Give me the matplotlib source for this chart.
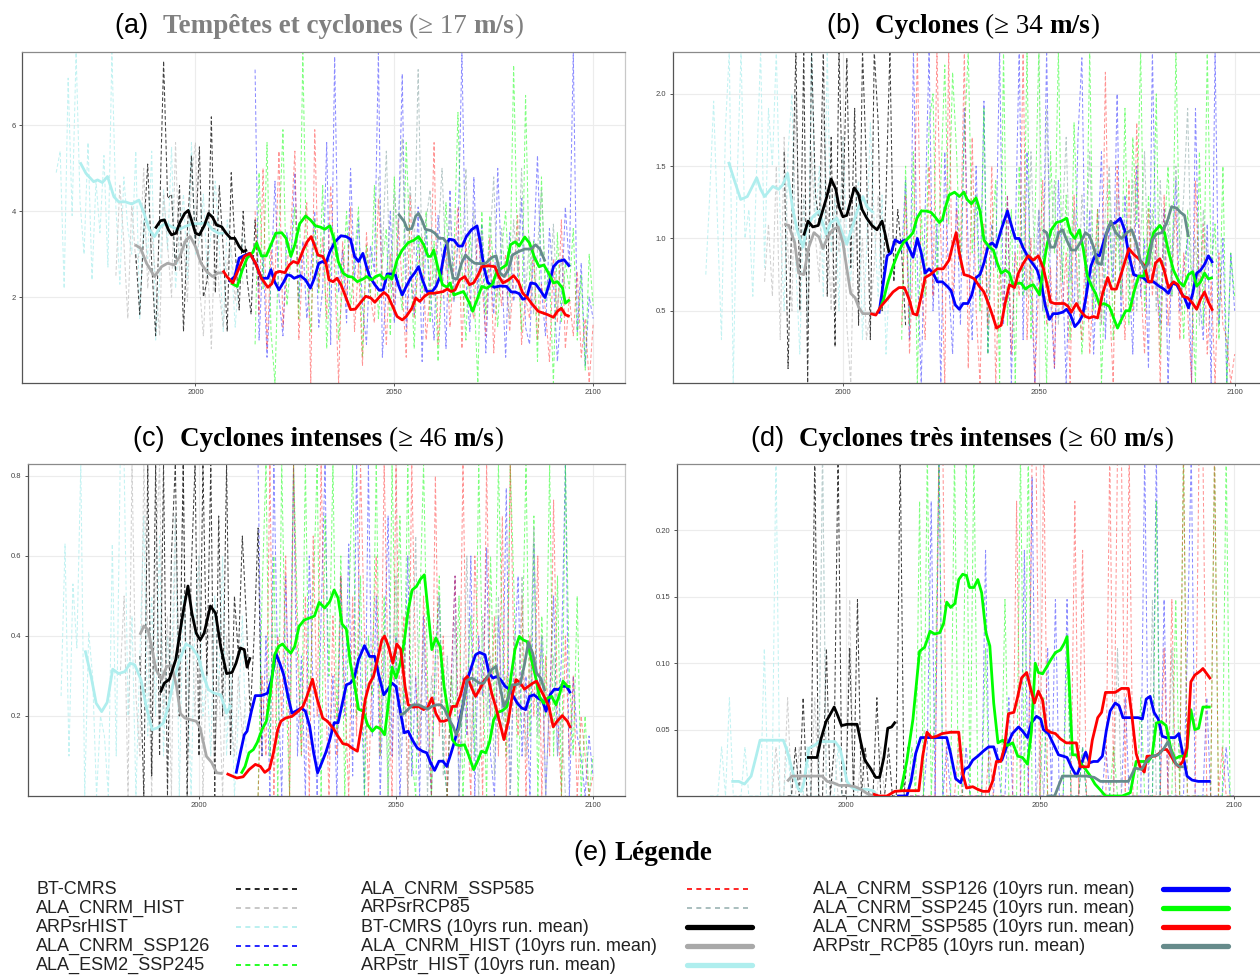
"""
Tropical storm / cyclone frequency, 4 intensity classes + legend panel.
Annual series (dashed) and 10-yr running means (thick) for each model run.
"""

import numpy as np
import matplotlib
matplotlib.use("Agg")
import matplotlib.pyplot as plt
from matplotlib.lines import Line2D
from matplotlib.offsetbox import TextArea, HPacker, AnnotationBbox

# ── Data ──────────────────────────────────────────────────────────────────────
# Annual values: first year + list of yearly values
HIST_START, ARPSR_START, BT_START, FUT_START, RCP_START = 1980, 1965, 1985, 2015, 2046

# Panel (a)  >= 17 m/s
A_BT = [3.0, 1.6, 3.5, 5.1, 2.8, 1.1, 3.9, 7.5, 4.3, 4.4, 2.6, 4.6, 1.2, 3.6, 5.3, 3.2,
        5.5, 2.0, 2.4, 6.2, 2.1, 4.6, 3.1, 1.2, 4.9, 3.1, 1.7, 4.0, 2.4, 1.6, 3.8, 2.2]
A_HIST = [2.5, 4.6, 3.3, 1.5, 4.2, 2.8, 3.0, 5.0, 2.2, 3.6, 2.4, 1.1, 4.4, 3.2, 2.0, 5.6,
          2.6, 3.3, 1.9, 4.8, 5.6, 2.3, 1.1, 3.0, 0.8, 3.7, 2.1, 1.3, 2.8, 3.2, 1.9, 2.9, 2.3]
A_ARPSR = [4.9, 5.4, 2.2, 7.1, 3.9, 7.7, 4.2, 3.0, 5.6, 2.4, 4.7, 3.5, 5.3, 2.7, 7.7, 4.1,
           2.3, 4.8, 3.6, 3.0, 5.4, 1.5, 3.8, 2.9, 5.4, 1.0, 2.4, 4.5, 3.1, 5.5, 2.2, 3.4,
           4.4, 2.4, 5.6, 3.0, 3.3, 4.4, 2.5, 3.6, 4.7, 3.1, 1.2, 3.8, 2.9, 1.3, 2.6, 3.4]
A_SSP126 = [7.3, 1.0, 3.0, 0.6, 2.4, 4.7, 2.0, 1.1, 3.5, 2.8, 4.9, 1.9, 3.3, 1.5, 2.6, 4.0,
            1.3, 2.2, 5.6, 0.9, 7.6, 2.1, 3.1, 1.4, 5.0, 2.4, 3.8, 1.8, 0.9, 3.2, 2.6, 7.7,
            0.6, 2.3, 4.0, 1.4, 3.4, 7.2, 1.2, 2.7, 1.6, 4.1, 0.5, 3.6, 2.2, 1.0, 3.9, 2.9,
            0.8, 4.5, 1.9, 3.3, 7.7, 2.4, 1.2, 4.8, 2.1, 3.7, 0.7, 2.9, 1.6, 5.0, 2.6, 0.6,
            3.5, 1.9, 2.5, 4.3, 1.3, 0.9, 3.0, 5.3, 2.2, 1.1, 3.6, 2.4, 0.5, 1.8, 4.1, 2.7,
            7.7, 1.2, 2.8, 0.4, 2.0, 1.5]
A_SSP245 = [0.9, 4.9, 2.2, 5.6, 1.2, 0.0, 3.4, 5.9, 1.8, 2.9, 4.1, 1.5, 7.7, 2.5, 1.2, 3.8,
            2.1, 4.6, 0.8, 2.7, 3.5, 1.0, 2.3, 4.0, 1.7, 2.9, 4.1, 0.6, 3.2, 2.0, 4.6, 1.5,
            2.8, 3.6, 1.1, 4.8, 2.5, 1.7, 5.6, 3.0, 0.8, 3.4, 2.1, 4.0, 1.4, 3.3, 0.5, 2.4,
            4.2, 1.9, 3.0, 6.3, 2.7, 1.0, 3.5, 2.2, 0.0, 4.0, 1.6, 3.9, 2.6, 1.3, 3.1, 4.0,
            2.0, 7.4, 2.9, 1.2, 6.7, 2.4, 3.3, 0.5, 4.8, 1.9, 2.6, 0.0, 3.5, 1.4, 2.8, 2.2,
            3.6, 1.0, 2.5, 0.3, 3.0, 1.8]
A_SSP585 = [4.0, 1.6, 5.0, 0.8, 3.1, 2.4, 5.4, 1.3, 2.7, 3.6, 5.4, 1.0, 2.9, 4.2, 0.0, 5.9,
            2.2, 3.4, 1.5, 4.6, 2.6, 0.0, 3.3, 1.9, 4.1, 1.2, 2.8, 0.4, 3.5, 2.0, 1.4, 4.3,
            2.5, 0.9, 3.0, 1.7, 3.8, 2.2, 0.6, 4.4, 1.5, 2.7, 3.4, 1.0, 2.1, 5.6, 0.9, 2.5,
            3.2, 1.3, 2.7, 4.1, 0.8, 3.3, 2.0, 1.5, 3.6, 2.4, 1.1, 3.4, 0.7, 2.6, 1.8, 3.0,
            1.2, 2.4, 3.9, 0.9, 2.0, 1.5, 3.2, 1.0, 2.3, 1.7, 0.5, 2.9, 1.4, 3.8, 0.8, 2.0,
            1.1, 2.6, 0.6, 1.5, 0.0, 1.4]
A_RCP = [4.8, 3.0, 5.4, 2.2, 4.4, 3.5, 5.7, 2.4, 4.6, 3.0, 7.3, 2.7, 3.8, 4.5, 2.0, 3.3,
         5.0, 2.6, 4.1, 1.9, 3.4, 2.8, 5.0, 2.2, 4.0, 1.8, 3.5, 2.5, 3.2, 4.8, 2.0, 3.6,
         2.3, 1.5, 3.8, 2.6, 5.0, 2.1, 3.4, 1.6, 3.1, 4.5, 2.4, 2.0, 3.7, 1.7, 2.9, 2.2]

# 10-yr running means: (year, value)
A_BT_M = [(1989.9, 3.60), (1991.2, 3.78), (1992.2, 3.80), (1993.2, 3.57), (1994.0, 3.45),
          (1995.1, 3.49), (1996.1, 3.74), (1997.3, 3.95), (1998.2, 4.02), (1999.0, 3.80),
          (2000.0, 3.49), (2001.0, 3.45), (2002.3, 3.68), (2003.3, 3.95), (2004.3, 3.86),
          (2005.3, 3.68), (2006.6, 3.64), (2007.7, 3.49), (2008.9, 3.37), (2009.9, 3.37),
          (2011.0, 3.18), (2012.0, 3.06), (2013.0, 3.10)]
A_HIST_M = [(1984.8, 3.22), (1986.2, 3.14), (1987.7, 2.79), (1989.7, 2.48), (1991.5, 2.71),
            (1993.0, 2.79), (1994.6, 2.75), (1996.1, 2.95), (1997.6, 3.33), (1998.7, 3.41),
            (2000.0, 3.18), (2001.4, 2.79), (2002.8, 2.60), (2004.3, 2.48), (2005.6, 2.56),
            (2006.9, 2.57)]
A_ARPSTR_M = [(1971.0, 5.14), (1972.5, 4.88), (1974.4, 4.69), (1975.4, 4.73), (1976.6, 4.67),
              (1977.9, 4.81), (1979.5, 4.34), (1980.7, 4.22), (1982.3, 4.22), (1984.0, 4.17),
              (1985.8, 4.26), (1987.1, 3.95), (1988.4, 3.57), (1989.7, 3.41), (1991.2, 3.64),
              (1992.5, 3.72), (1994.0, 3.64), (1995.8, 3.57), (1997.3, 3.64), (1999.2, 3.71),
              (2001.2, 3.71), (2002.8, 3.74), (2004.3, 3.57), (2005.8, 3.49), (2007.2, 3.49)]
A_SSP126_M = [(2008.4, 2.36), (2009.9, 2.48), (2011.0, 2.91), (2012.5, 2.98), (2013.7, 3.02),
              (2015.1, 2.79), (2016.6, 2.44), (2018.2, 2.44), (2019.0, 2.64), (2019.9, 2.36),
              (2021.0, 2.17), (2022.1, 2.34), (2023.1, 2.52), (2024.0, 2.50), (2024.8, 2.44),
              (2026.4, 2.50), (2027.7, 2.40), (2028.9, 2.21), (2029.9, 2.44), (2031.0, 2.79),
              (2032.0, 2.83), (2032.8, 2.79), (2033.8, 3.06), (2035.1, 3.29), (2036.6, 3.43),
              (2037.9, 3.41), (2039.0, 3.35), (2040.0, 2.95), (2041.0, 2.83), (2042.1, 3.02),
              (2043.0, 2.71), (2043.8, 2.48), (2045.1, 2.29), (2046.2, 2.16), (2047.2, 2.17),
              (2048.2, 2.54), (2049.2, 2.54), (2050.3, 2.51), (2051.0, 2.29), (2052.0, 2.05),
              (2053.0, 2.25), (2054.1, 2.44), (2055.1, 2.56), (2056.1, 2.71), (2057.1, 2.40),
              (2058.2, 2.13), (2059.5, 2.13), (2060.5, 2.25), (2061.5, 2.48), (2062.8, 3.14),
              (2063.8, 3.35), (2065.0, 3.33), (2066.1, 3.19), (2067.1, 3.19), (2068.1, 3.41),
              (2069.4, 3.57), (2070.8, 3.66), (2071.5, 3.33), (2072.5, 2.71), (2073.5, 2.34),
              (2075.1, 2.23), (2076.6, 2.26), (2078.2, 2.25), (2079.4, 2.12), (2080.4, 2.12),
              (2081.4, 2.08), (2082.3, 1.95), (2083.3, 1.99), (2084.3, 2.33), (2085.5, 2.31),
              (2086.6, 2.17), (2087.9, 1.99), (2088.9, 2.29), (2090.0, 2.71), (2091.2, 2.83),
              (2092.7, 2.87), (2094.1, 2.71)]
A_SSP245_M = [(2008.9, 2.33), (2010.5, 2.25), (2011.8, 2.64), (2013.0, 2.91), (2014.4, 3.04),
              (2015.4, 3.26), (2016.6, 2.96), (2017.8, 2.96), (2019.0, 3.22), (2020.2, 3.49),
              (2021.7, 3.50), (2022.8, 3.37), (2024.0, 2.95), (2025.0, 3.22), (2026.2, 3.71),
              (2027.7, 3.89), (2028.9, 3.80), (2030.2, 3.66), (2031.5, 3.63), (2032.5, 3.58),
              (2033.8, 3.66), (2034.9, 3.33), (2035.9, 2.83), (2037.1, 2.56), (2038.4, 2.48),
              (2039.4, 2.47), (2040.7, 2.36), (2042.1, 2.42), (2043.1, 2.48), (2044.3, 2.40),
              (2045.3, 2.48), (2046.4, 2.52), (2047.4, 2.42), (2048.4, 2.50), (2049.4, 2.42),
              (2050.7, 2.87), (2052.0, 3.10), (2053.5, 3.27), (2054.8, 3.32), (2056.1, 3.41),
              (2057.4, 3.22), (2058.5, 2.95), (2059.2, 2.95), (2059.9, 3.10), (2060.9, 2.71),
              (2062.1, 2.29), (2063.3, 2.23), (2064.0, 2.33), (2065.0, 2.05), (2066.1, 2.09),
              (2067.4, 2.13), (2068.7, 1.90), (2069.7, 1.67), (2070.8, 1.94), (2072.0, 2.25),
              (2073.2, 2.21), (2074.6, 2.29), (2075.9, 2.62), (2076.9, 2.67), (2078.2, 2.75),
              (2079.2, 3.22), (2080.4, 3.29), (2081.4, 3.19), (2082.8, 3.40), (2084.0, 3.26),
              (2085.1, 2.96), (2086.4, 2.71), (2087.6, 2.75), (2089.0, 2.52), (2090.0, 2.33),
              (2091.0, 2.36), (2092.3, 2.21), (2093.0, 1.86), (2094.1, 1.94)]
A_SSP585_M = [(2006.9, 2.62), (2007.9, 2.48), (2009.4, 2.33), (2010.8, 2.64), (2012.3, 2.95),
              (2013.7, 3.02), (2015.1, 2.79), (2016.6, 2.44), (2018.2, 2.23), (2019.2, 2.31),
              (2020.2, 2.57), (2021.2, 2.60), (2022.5, 2.57), (2023.6, 2.75), (2024.6, 2.83),
              (2025.8, 2.79), (2027.1, 3.10), (2028.1, 3.29), (2029.1, 3.41), (2029.9, 3.22),
              (2030.8, 2.98), (2032.0, 2.95), (2032.8, 2.79), (2033.6, 2.40), (2034.6, 2.36),
              (2035.6, 2.44), (2036.6, 2.29), (2037.6, 2.05), (2039.0, 1.71), (2040.2, 1.72),
              (2041.4, 1.86), (2042.8, 2.02), (2044.1, 1.98), (2045.1, 1.88), (2046.4, 2.02),
              (2047.4, 2.11), (2048.4, 2.03), (2049.6, 1.78), (2050.7, 1.55), (2052.0, 1.47),
              (2053.0, 1.55), (2054.4, 1.74), (2055.4, 1.98), (2056.4, 1.90), (2057.6, 2.02),
              (2058.7, 2.09), (2059.9, 2.09), (2061.2, 2.11), (2062.3, 2.13), (2063.3, 2.19),
              (2064.3, 2.13), (2065.3, 2.17), (2066.4, 2.40), (2067.7, 2.48), (2068.9, 2.29),
              (2069.9, 2.33), (2070.9, 2.48), (2072.0, 2.71), (2073.5, 2.73), (2075.3, 2.71),
              (2076.3, 2.48), (2077.3, 2.33), (2078.7, 2.40), (2080.0, 2.50), (2081.2, 2.36),
              (2082.3, 2.09), (2083.5, 1.98), (2084.8, 1.82), (2086.2, 1.67), (2087.4, 1.63),
              (2088.6, 1.59), (2090.0, 1.53), (2091.0, 1.67), (2092.0, 1.74), (2093.0, 1.59),
              (2094.1, 1.55)]
A_RCP_M = [(2051.0, 3.94), (2052.5, 3.76), (2053.3, 3.57), (2054.4, 3.60), (2055.4, 3.89),
           (2056.1, 3.95), (2057.1, 3.76), (2057.8, 3.58), (2059.2, 3.55), (2060.2, 3.49),
           (2061.2, 3.37), (2062.3, 3.37), (2063.3, 3.26), (2064.0, 2.79), (2064.8, 2.44),
           (2065.8, 2.42), (2066.9, 2.79), (2067.9, 2.98), (2068.9, 2.88), (2070.2, 2.79),
           (2071.5, 2.78), (2073.0, 2.79), (2074.6, 2.93), (2075.6, 2.96), (2076.6, 2.56),
           (2077.6, 2.48), (2078.7, 2.64), (2079.7, 2.98), (2081.2, 3.06), (2082.8, 3.12),
           (2084.3, 3.12), (2085.5, 3.22), (2086.6, 3.12), (2087.9, 2.83)]

# Panel (b)  >= 34 m/s
B_BT = [1.6, 0.1, 1.2, 2.3, 0.5, 2.3, 0.0, 2.3, 1.3, 1.1, 2.3, 0.6, 1.7, 0.25, 2.3, 1.2,
        2.25, 0.8, 1.9, 0.4, 2.3, 1.5, 0.3, 2.3, 1.8, 0.5, 1.3, 2.3, 0.7, 1.2, 0.9, 0.4]
B_HIST = [0.7, 1.1, 0.6, 1.5, 0.3, 1.7, 0.9, 0.5, 2.0, 0.8, 1.3, 0.4, 1.6, 1.0, 0.7, 1.9,
          1.2, 0.5, 1.4, 0.9, 1.7, 0.4, 0.0, 1.2, 0.6, 1.0, 0.3, 0.5, 0.8, 1.3, 0.6, 0.9, 1.1]
B_ARPSR = [0.75, 1.3, 1.95, 1.1, 0.3, 1.75, 2.3, 0.0, 1.4, 2.3, 1.0, 1.2, 0.6, 1.5, 2.3, 0.8,
           1.9, 1.5, 2.3, 1.1, 0.5, 1.6, 2.0, 0.8, 0.2, 1.3, 0.4, 2.3, 1.1, 1.5, 0.6, 2.3,
           0.9, 1.3, 0.5, 1.7, 1.0, 0.7, 1.2, 1.4, 0.3, 0.9, 1.8, 1.1, 0.6, 1.3, 0.2, 0.8]
B_SSP126 = [0.9, 1.4, 0.3, 2.3, 0.8, 0.0, 1.2, 2.3, 0.5, 1.1, 0.0, 1.6, 0.7, 0.2, 1.3, 0.4,
            1.9, 0.9, 0.3, 1.5, 0.6, 1.95, 0.2, 1.1, 0.8, 2.3, 0.4, 1.3, 0.0, 1.0, 2.3, 0.3,
            1.6, 0.7, 0.0, 1.2, 0.5, 2.3, 0.6, 0.1, 1.4, 0.8, 0.0, 1.0, 0.4, 1.7, 2.25, 0.5,
            1.2, 0.2, 0.9, 1.6, 0.3, 1.1, 0.7, 2.0, 0.4, 1.3, 0.8, 0.2, 1.5, 0.6, 1.0, 0.1,
            2.3, 0.7, 0.4, 1.2, 0.0, 0.9, 1.4, 0.5, 0.8, 1.0, 0.0, 1.9, 0.6, 0.3, 1.1, 0.0,
            2.3, 0.4, 1.0, 0.0, 0.9, 0.5]
B_SSP245 = [0.3, 1.5, 0.4, 1.6, 0.0, 1.2, 0.6, 1.8, 2.0, 0.7, 1.4, 2.2, 1.1, 2.15, 1.6, 0.8,
            1.7, 2.3, 0.9, 1.3, 0.5, 1.9, 0.2, 1.0, 1.4, 0.0, 2.3, 0.4, 1.2, 0.0, 1.5, 0.6,
            2.3, 0.3, 1.1, 2.3, 0.8, 0.0, 1.6, 0.9, 2.3, 0.7, 1.3, 0.3, 1.8, 1.0, 0.2, 0.6,
            2.3, 0.5, 1.2, 0.0, 0.8, 1.4, 0.3, 1.1, 0.6, 1.9, 0.4, 1.7, 1.1, 2.3, 0.5, 1.3,
            0.8, 2.0, 0.2, 1.0, 1.5, 0.6, 2.3, 0.9, 0.3, 1.2, 0.7, 0.0, 1.6, 0.4, 2.3, 0.8,
            1.1, 0.3, 1.5, 0.0, 0.9, 0.6]
B_SSP585 = [0.4, 1.3, 0.2, 0.9, 2.3, 0.7, 0.3, 1.5, 0.6, 2.3, 1.0, 0.0, 2.3, 0.5, 1.2, 0.9,
            2.3, 0.1, 1.7, 0.5, 0.0, 1.1, 0.4, 1.5, 0.0, 0.8, 0.5, 1.3, 0.2, 0.9, 0.6, 2.3,
            0.3, 1.0, 0.0, 0.7, 1.4, 0.4, 0.8, 0.1, 1.1, 0.5, 0.9, 0.0, 1.3, 0.6, 0.3, 1.0,
            0.2, 0.7, 1.2, 0.4, 2.15, 0.6, 0.0, 1.5, 0.9, 0.3, 1.4, 0.5, 1.8, 0.7, 0.2, 1.2,
            0.6, 1.0, 0.0, 1.3, 0.4, 0.8, 1.2, 0.3, 0.9, 0.5, 0.0, 1.4, 0.6, 1.1, 0.2, 0.7,
            0.0, 0.9, 0.4, 0.3, 0.0, 0.2]
B_RCP = [1.3, 0.6, 1.6, 0.8, 1.2, 0.5, 1.9, 0.9, 1.4, 0.4, 1.1, 1.7, 0.7, 1.2, 0.5, 1.3,
         0.9, 1.6, 0.6, 1.0, 0.4, 1.2, 1.5, 0.8, 1.3, 0.6, 1.1, 0.9, 1.4, 0.5, 1.0, 1.6,
         0.7, 1.2, 0.5, 1.4, 0.8, 1.1, 0.6, 1.5, 0.9, 1.3, 1.9, 0.7, 1.0, 0.4, 1.2, 0.8]

B_BT_M = [(1990.0, 1.02), (1991.1, 1.12), (1992.3, 1.08), (1993.7, 1.09), (1994.7, 1.18),
          (1995.9, 1.29), (1997.0, 1.41), (1998.2, 1.34), (1999.0, 1.22), (2000.0, 1.15),
          (2001.0, 1.16), (2001.8, 1.24), (2002.9, 1.35), (2003.9, 1.31), (2004.9, 1.20),
          (2006.1, 1.14), (2007.4, 1.09), (2008.7, 1.06), (2010.0, 1.12), (2010.7, 1.04),
          (2011.8, 0.90)]
B_HIST_M = [(1985.0, 1.10), (1986.2, 1.09), (1987.7, 0.97), (1988.7, 0.76), (1990.0, 0.75),
            (1991.3, 0.94), (1992.6, 1.04), (1993.9, 1.01), (1994.9, 0.93), (1996.1, 1.01),
            (1997.4, 1.06), (1998.8, 1.08), (2000.0, 0.97), (2001.0, 0.79), (2002.0, 0.62),
            (2003.1, 0.59), (2004.1, 0.52), (2005.1, 0.48), (2007.0, 0.48), (2008.2, 0.48)]
B_ARPSTR_M = [(1970.8, 1.53), (1972.2, 1.41), (1973.9, 1.27), (1975.6, 1.29), (1978.0, 1.42),
              (1979.0, 1.34), (1980.0, 1.29), (1982.1, 1.36), (1983.6, 1.34), (1984.6, 1.37),
              (1985.9, 1.45), (1987.2, 1.20), (1988.5, 1.04), (1989.8, 0.94), (1990.8, 1.08),
              (1992.3, 1.15), (1993.9, 1.19), (1995.7, 1.03), (1996.9, 1.11), (1998.5, 1.14),
              (1999.8, 1.04), (2001.0, 0.96), (2002.4, 1.08), (2003.9, 1.21), (2005.1, 1.29),
              (2006.1, 1.22), (2007.7, 1.18)]
B_SSP126_M = [(2009.2, 0.48), (2010.4, 0.71), (2011.3, 0.88), (2012.3, 0.90), (2013.3, 0.99),
              (2014.5, 0.97), (2015.9, 0.99), (2016.9, 0.93), (2017.9, 0.87), (2019.0, 1.00),
              (2020.0, 0.90), (2021.0, 0.76), (2022.0, 0.79), (2023.0, 0.76), (2024.1, 0.70),
              (2025.4, 0.70), (2026.6, 0.67), (2027.6, 0.64), (2028.7, 0.54), (2029.7, 0.51),
              (2030.7, 0.55), (2031.9, 0.55), (2032.9, 0.61), (2034.0, 0.73), (2035.0, 0.75),
              (2036.0, 0.83), (2037.1, 0.95), (2038.1, 0.97), (2039.1, 0.94), (2040.4, 1.06),
              (2042.0, 1.19), (2042.8, 1.11), (2044.0, 1.00), (2045.0, 1.00), (2046.1, 0.93),
              (2047.1, 0.88), (2048.6, 0.82), (2049.6, 0.78), (2050.7, 0.68), (2051.7, 0.53),
              (2052.7, 0.44), (2053.7, 0.48), (2054.8, 0.48), (2056.1, 0.49), (2057.1, 0.51),
              (2058.1, 0.47), (2059.2, 0.39), (2060.2, 0.42), (2061.2, 0.47), (2062.2, 0.62),
              (2063.3, 0.81), (2064.5, 0.89), (2065.5, 0.88), (2066.7, 0.99), (2068.0, 1.09),
              (2069.6, 1.11), (2070.8, 1.14), (2071.9, 1.06), (2072.9, 0.90), (2074.2, 0.75),
              (2075.2, 0.74), (2076.6, 0.73), (2077.8, 0.70), (2079.3, 0.70), (2080.7, 0.67),
              (2081.9, 0.65), (2083.1, 0.62), (2084.1, 0.69), (2085.2, 0.68), (2086.2, 0.63),
              (2087.2, 0.59), (2088.2, 0.52), (2089.3, 0.62), (2090.3, 0.76), (2091.3, 0.78),
              (2092.3, 0.82), (2093.3, 0.88), (2094.4, 0.83)]
B_SSP245_M = [(2009.4, 0.51), (2010.4, 0.58), (2011.5, 0.70), (2012.8, 0.81), (2014.1, 0.90),
              (2015.4, 0.97), (2016.6, 1.00), (2017.9, 1.04), (2018.9, 1.14), (2020.0, 1.19),
              (2021.3, 1.19), (2022.5, 1.18), (2023.5, 1.15), (2024.6, 1.11), (2025.4, 1.13),
              (2026.1, 1.21), (2027.1, 1.30), (2028.5, 1.32), (2029.7, 1.29), (2030.9, 1.32),
              (2031.7, 1.27), (2032.8, 1.24), (2034.0, 1.28), (2035.0, 1.19), (2036.0, 0.99),
              (2037.4, 0.94), (2038.4, 0.92), (2039.4, 0.83), (2040.4, 0.76), (2041.5, 0.78),
              (2042.5, 0.76), (2043.5, 0.67), (2044.5, 0.69), (2045.5, 0.69), (2046.6, 0.65),
              (2047.6, 0.67), (2048.6, 0.68), (2049.3, 0.65), (2050.2, 0.61), (2051.2, 0.81),
              (2052.2, 0.97), (2053.2, 1.06), (2054.5, 1.11), (2055.8, 1.12), (2057.1, 1.14),
              (2058.1, 1.04), (2059.2, 1.00), (2060.4, 1.06), (2061.4, 0.92), (2062.4, 0.74),
              (2063.5, 0.67), (2064.5, 0.62), (2065.5, 0.54), (2066.7, 0.55), (2068.0, 0.53),
              (2069.1, 0.45), (2070.1, 0.38), (2071.1, 0.44), (2072.2, 0.50), (2073.2, 0.50),
              (2074.2, 0.62), (2075.5, 0.74), (2076.8, 0.74), (2078.0, 0.90), (2079.3, 1.04),
              (2080.9, 1.09), (2082.1, 1.04), (2083.1, 0.91), (2084.4, 0.78), (2085.8, 0.70),
              (2087.0, 0.67), (2088.2, 0.75), (2089.3, 0.77), (2090.3, 0.67), (2091.3, 0.70),
              (2092.3, 0.76), (2093.3, 0.72), (2094.4, 0.73)]
B_SSP585_M = [(2007.0, 0.48), (2008.4, 0.47), (2009.7, 0.53), (2011.3, 0.58), (2012.8, 0.63),
              (2014.3, 0.66), (2015.7, 0.66), (2016.9, 0.58), (2017.9, 0.48), (2018.9, 0.47),
              (2020.0, 0.60), (2021.0, 0.73), (2022.3, 0.75), (2024.1, 0.79), (2025.6, 0.79),
              (2027.1, 0.85), (2027.9, 0.94), (2028.9, 1.04), (2029.7, 0.90), (2030.9, 0.75),
              (2032.2, 0.74), (2033.6, 0.72), (2034.8, 0.67), (2036.0, 0.63), (2037.4, 0.53),
              (2038.4, 0.45), (2039.2, 0.38), (2040.4, 0.40), (2041.4, 0.55), (2042.5, 0.68),
              (2043.8, 0.66), (2044.8, 0.76), (2046.1, 0.83), (2047.3, 0.88), (2048.6, 0.85),
              (2049.9, 0.88), (2051.2, 0.79), (2052.2, 0.67), (2053.0, 0.56), (2054.0, 0.55),
              (2055.3, 0.55), (2056.5, 0.55), (2057.5, 0.53), (2058.3, 0.49), (2059.6, 0.55),
              (2060.6, 0.50), (2061.9, 0.46), (2062.9, 0.45), (2064.0, 0.46), (2065.0, 0.45),
              (2066.3, 0.62), (2067.6, 0.73), (2068.6, 0.65), (2069.8, 0.65), (2071.1, 0.76),
              (2073.0, 0.93), (2074.2, 0.89), (2075.5, 0.86), (2077.0, 0.81), (2078.0, 0.70),
              (2078.8, 0.70), (2079.8, 0.83), (2080.9, 0.86), (2081.9, 0.79), (2083.1, 0.66),
              (2084.4, 0.70), (2085.5, 0.68), (2086.8, 0.60), (2088.0, 0.59), (2089.3, 0.55),
              (2090.3, 0.51), (2091.3, 0.58), (2092.3, 0.63), (2093.3, 0.56), (2094.4, 0.50)]
B_RCP_M = [(2051.0, 1.06), (2052.0, 1.04), (2053.0, 0.94), (2054.0, 0.94), (2055.1, 1.04),
           (2056.1, 1.06), (2057.1, 0.99), (2058.3, 0.92), (2059.4, 0.92), (2060.6, 0.97),
           (2061.9, 1.04), (2062.9, 1.02), (2064.0, 0.94), (2065.0, 0.83), (2066.0, 0.82),
           (2067.3, 1.04), (2068.4, 1.12), (2069.6, 1.04), (2071.1, 1.00), (2072.5, 1.04),
           (2073.7, 1.06), (2074.9, 0.97), (2075.9, 0.85), (2077.0, 0.79), (2078.0, 0.83),
           (2079.0, 0.99), (2080.0, 1.03), (2081.4, 1.04), (2082.7, 1.11), (2083.9, 1.22),
           (2085.2, 1.21), (2086.2, 1.18), (2087.2, 1.16), (2088.2, 1.01)]

# Panel (c)  >= 46 m/s
C_BT = [0.35, 0.0, 0.83, 0.05, 0.83, 0.1, 0.83, 0.0, 0.6, 0.83, 0.2, 0.83, 0.0, 0.55, 0.83, 0.1,
        0.83, 0.3, 0.83, 0.0, 0.7, 0.2, 0.83, 0.1, 0.5, 0.35, 0.65, 0.45, 0.2, 0.4, 0.67, 0.1]
C_HIST = [0.3, 0.5, 0.0, 0.83, 0.25, 0.1, 0.83, 0.4, 0.0, 0.6, 0.83, 0.2, 0.45, 0.0, 0.7, 0.3,
          0.83, 0.1, 0.5, 0.2, 0.6, 0.0, 0.35, 0.45, 0.1, 0.3, 0.0, 0.4, 0.2, 0.1, 0.3, 0.15, 0.25]
C_ARPSR = [0.25, 0.63, 0.1, 0.53, 0.37, 0.83, 0.0, 0.41, 0.3, 0.0, 0.2, 0.15, 0.0, 0.63, 0.1, 0.83,
           0.83, 0.2, 0.45, 0.0, 0.35, 0.7, 0.15, 0.5, 0.2, 0.65, 0.1, 0.4, 0.3, 0.7, 0.0, 0.5,
           0.35, 0.0, 0.45, 0.6, 0.2, 0.3, 0.1, 0.5, 0.25, 0.6, 0.1, 0.35, 0.0, 0.2, 0.45, 0.1]
C_SSP126 = [0.83, 0.1, 0.4, 0.0, 0.83, 0.3, 0.0, 0.55, 0.2, 0.83, 0.1, 0.35, 0.0, 0.6, 0.25, 0.0,
            0.45, 0.83, 0.1, 0.3, 0.0, 0.55, 0.2, 0.63, 0.05, 0.83, 0.3, 0.0, 0.83, 0.15, 0.5, 0.0,
            0.35, 0.7, 0.1, 0.4, 0.0, 0.25, 0.6, 0.05, 0.3, 0.0, 0.45, 0.15, 0.0, 0.35, 0.5, 0.1,
            0.0, 0.27, 0.55, 0.0, 0.3, 0.15, 0.6, 0.0, 0.4, 0.25, 0.62, 0.1, 0.0, 0.45, 0.2, 0.77,
            0.0, 0.35, 0.55, 0.1, 0.3, 0.0, 0.63, 0.2, 0.4, 0.0, 0.25, 0.5, 0.1, 0.35, 0.83, 0.0,
            0.3, 0.15, 0.1, 0.0, 0.15, 0.05]
C_SSP245 = [0.0, 0.5, 0.83, 0.1, 0.6, 0.0, 0.83, 0.3, 0.0, 0.83, 0.45, 0.1, 0.83, 0.2, 0.5, 0.83,
            0.0, 0.7, 0.3, 0.83, 0.15, 0.6, 0.0, 0.45, 0.83, 0.2, 0.55, 0.0, 0.4, 0.25, 0.83, 0.1,
            0.5, 0.0, 0.83, 0.3, 0.7, 0.2, 0.83, 0.1, 0.0, 0.45, 0.83, 0.3, 0.0, 0.35, 0.55, 0.1,
            0.0, 0.3, 0.2, 0.5, 0.0, 0.25, 0.45, 0.1, 0.83, 0.3, 0.0, 0.6, 0.2, 0.83, 0.4, 0.1,
            0.83, 0.5, 0.0, 0.35, 0.83, 0.15, 0.7, 0.0, 0.45, 0.2, 0.83, 0.1, 0.55, 0.0, 0.83, 0.3,
            0.1, 0.5, 0.0, 0.2, 0.0, 0.1]
C_SSP585 = [0.0, 0.3, 0.1, 0.83, 0.0, 0.4, 0.2, 0.6, 0.0, 0.83, 0.35, 0.1, 0.5, 0.0, 0.65, 0.2,
            0.83, 0.3, 0.0, 0.45, 0.1, 0.55, 0.25, 0.0, 0.5, 0.15, 0.83, 0.4, 0.0, 0.35, 0.6, 0.1,
            0.83, 0.3, 0.0, 0.83, 0.2, 0.45, 0.0, 0.83, 0.3, 0.1, 0.5, 0.25, 0.0, 0.8, 0.15, 0.4,
            0.0, 0.3, 0.55, 0.1, 0.83, 0.2, 0.0, 0.6, 0.35, 0.0, 0.83, 0.2, 0.45, 0.1, 0.7, 0.0,
            0.83, 0.3, 0.15, 0.5, 0.0, 0.4, 0.2, 0.6, 0.0, 0.35, 0.1, 0.74, 0.2, 0.0, 0.4, 0.1,
            0.3, 0.0, 0.2, 0.1, 0.0, 0.05]
C_RCP = [0.1, 0.4, 0.0, 0.3, 0.55, 0.1, 0.35, 0.0, 0.25, 0.65, 0.15, 0.4, 0.0, 0.3, 0.2, 0.5,
         0.05, 0.35, 0.15, 0.45, 0.0, 0.25, 0.6, 0.1, 0.3, 0.0, 0.45, 0.2, 0.35, 0.05, 0.5, 0.15,
         0.3, 0.0, 0.4, 0.2, 0.55, 0.1, 0.3, 0.67, 0.15, 0.4, 0.0, 0.25, 0.35, 0.1, 0.2, 0.0]

C_BT_M = [(1990.2, 0.259), (1991.2, 0.282), (1992.5, 0.292), (1994.1, 0.341), (1996.0, 0.461),
          (1997.2, 0.525), (1998.2, 0.457), (1999.3, 0.407), (2000.3, 0.390), (2001.3, 0.407),
          (2002.9, 0.475), (2004.2, 0.457), (2005.5, 0.374), (2007.0, 0.306), (2008.4, 0.309),
          (2009.4, 0.332), (2010.5, 0.370), (2011.5, 0.366), (2012.2, 0.322), (2013.0, 0.347)]
C_HIST_M = [(1985.0, 0.403), (1986.0, 0.425), (1987.1, 0.415), (1988.1, 0.366), (1989.1, 0.316),
            (1990.5, 0.291), (1991.8, 0.324), (1993.1, 0.326), (1994.3, 0.274), (1995.3, 0.206),
            (1996.4, 0.195), (1997.7, 0.191), (1999.3, 0.187), (2000.3, 0.170), (2001.9, 0.099),
            (2003.2, 0.084), (2004.5, 0.058), (2006.0, 0.056)]
C_ARPSTR_M = [(1971.1, 0.364), (1972.6, 0.300), (1973.9, 0.232), (1975.3, 0.211), (1976.7, 0.234),
              (1978.1, 0.317), (1979.6, 0.306), (1981.2, 0.311), (1982.5, 0.332), (1983.7, 0.328),
              (1985.3, 0.290), (1986.6, 0.224), (1988.1, 0.166), (1989.4, 0.170), (1991.0, 0.183),
              (1992.2, 0.224), (1993.6, 0.290), (1995.1, 0.341), (1996.7, 0.380), (1998.2, 0.372),
              (1999.8, 0.349), (2001.1, 0.300), (2002.4, 0.266), (2003.9, 0.257), (2005.5, 0.253),
              (2007.0, 0.207), (2008.1, 0.228)]
C_SSP126_M = [(2009.4, 0.056), (2010.5, 0.108), (2011.5, 0.153), (2012.2, 0.162), (2013.3, 0.212),
              (2014.3, 0.251), (2015.8, 0.251), (2017.4, 0.257), (2018.4, 0.291), (2019.5, 0.357),
              (2020.5, 0.332), (2021.5, 0.303), (2022.6, 0.249), (2023.6, 0.207), (2024.9, 0.214),
              (2026.0, 0.220), (2027.0, 0.212), (2028.1, 0.174), (2029.1, 0.108), (2030.1, 0.058),
              (2031.2, 0.084), (2032.2, 0.109), (2033.2, 0.141), (2034.3, 0.183), (2035.3, 0.183),
              (2036.3, 0.228), (2037.4, 0.278), (2038.4, 0.282), (2039.4, 0.295), (2040.5, 0.341),
              (2042.0, 0.376), (2043.3, 0.349), (2044.6, 0.349), (2045.7, 0.299), (2046.9, 0.253),
              (2047.9, 0.266), (2049.0, 0.282), (2050.0, 0.274), (2051.0, 0.216), (2052.1, 0.158),
              (2053.1, 0.162), (2054.1, 0.141), (2055.4, 0.120), (2056.7, 0.112), (2057.8, 0.108),
              (2058.8, 0.083), (2059.8, 0.064), (2060.9, 0.087), (2061.9, 0.087), (2062.9, 0.074),
              (2064.0, 0.108), (2065.0, 0.141), (2066.0, 0.183), (2067.1, 0.232), (2068.1, 0.291),
              (2069.2, 0.324), (2070.2, 0.353), (2071.2, 0.359), (2072.6, 0.353), (2073.6, 0.307),
              (2074.6, 0.295), (2075.7, 0.299), (2076.7, 0.289), (2077.7, 0.274), (2078.8, 0.267),
              (2079.8, 0.249), (2080.8, 0.232), (2081.9, 0.220), (2082.9, 0.216), (2083.9, 0.249),
              (2085.0, 0.253), (2086.0, 0.245), (2087.1, 0.239), (2088.1, 0.212), (2089.1, 0.253),
              (2090.2, 0.267), (2091.2, 0.266), (2092.2, 0.274), (2093.3, 0.274), (2094.3, 0.257)]
C_SSP245_M = [(2010.7, 0.056), (2011.7, 0.074), (2012.7, 0.108), (2013.8, 0.116), (2014.8, 0.134),
              (2016.0, 0.166), (2017.1, 0.187), (2018.1, 0.257), (2019.2, 0.353), (2020.2, 0.374),
              (2021.2, 0.380), (2022.3, 0.367), (2023.3, 0.357), (2024.3, 0.374), (2025.4, 0.424),
              (2026.7, 0.440), (2028.1, 0.445), (2029.3, 0.450), (2030.5, 0.484), (2031.9, 0.470),
              (2033.2, 0.486), (2034.3, 0.515), (2035.3, 0.495), (2036.3, 0.430), (2037.4, 0.417),
              (2038.4, 0.334), (2039.4, 0.282), (2040.5, 0.217), (2041.7, 0.212), (2042.8, 0.178),
              (2044.0, 0.162), (2045.0, 0.173), (2046.1, 0.168), (2047.1, 0.153), (2047.9, 0.216),
              (2049.0, 0.322), (2050.0, 0.295), (2051.0, 0.328), (2052.1, 0.386), (2053.1, 0.465),
              (2054.1, 0.515), (2055.2, 0.524), (2056.2, 0.542), (2057.2, 0.553), (2058.1, 0.467),
              (2059.1, 0.366), (2060.1, 0.395), (2061.2, 0.374), (2062.2, 0.274), (2063.3, 0.207),
              (2064.3, 0.141), (2065.3, 0.128), (2066.4, 0.126), (2067.4, 0.128), (2068.4, 0.103),
              (2069.7, 0.066), (2070.7, 0.087), (2071.7, 0.112), (2072.8, 0.108), (2073.8, 0.137),
              (2074.8, 0.191), (2075.9, 0.209), (2077.1, 0.214), (2078.2, 0.224), (2079.2, 0.299),
              (2080.2, 0.366), (2081.3, 0.399), (2082.3, 0.390), (2083.3, 0.386), (2084.4, 0.341),
              (2085.4, 0.299), (2086.4, 0.249), (2087.5, 0.232), (2088.5, 0.245), (2089.5, 0.249),
              (2090.6, 0.228), (2091.6, 0.257), (2092.4, 0.287), (2093.5, 0.274), (2094.3, 0.274)]
C_SSP585_M = [(2007.0, 0.056), (2008.4, 0.050), (2009.6, 0.045), (2011.2, 0.048), (2012.7, 0.066),
              (2014.3, 0.079), (2015.6, 0.074), (2016.7, 0.059), (2017.9, 0.068), (2018.9, 0.108),
              (2020.0, 0.166), (2020.8, 0.187), (2022.0, 0.195), (2023.6, 0.199), (2025.2, 0.212),
              (2026.4, 0.224), (2027.4, 0.249), (2028.8, 0.292), (2029.8, 0.249), (2031.4, 0.195),
              (2032.6, 0.187), (2034.0, 0.170), (2035.3, 0.149), (2036.5, 0.131), (2037.8, 0.128),
              (2038.8, 0.120), (2040.2, 0.112), (2041.2, 0.173), (2042.2, 0.242), (2043.3, 0.282),
              (2044.3, 0.299), (2045.3, 0.341), (2046.4, 0.390), (2047.1, 0.400), (2048.1, 0.374),
              (2049.2, 0.332), (2050.2, 0.380), (2051.2, 0.367), (2052.3, 0.274), (2053.1, 0.228),
              (2054.3, 0.222), (2055.7, 0.224), (2057.0, 0.216), (2058.1, 0.222), (2059.1, 0.245),
              (2060.1, 0.207), (2061.2, 0.187), (2062.2, 0.187), (2063.3, 0.191), (2064.3, 0.224),
              (2065.3, 0.224), (2066.4, 0.253), (2067.4, 0.292), (2068.1, 0.299), (2069.2, 0.270),
              (2070.2, 0.249), (2071.2, 0.266), (2072.3, 0.287), (2073.3, 0.299), (2074.3, 0.257),
              (2075.4, 0.220), (2076.4, 0.181), (2077.4, 0.141), (2078.5, 0.187), (2079.5, 0.251),
              (2080.5, 0.291), (2081.6, 0.282), (2082.6, 0.267), (2083.6, 0.274), (2084.7, 0.282),
              (2085.7, 0.287), (2086.7, 0.266), (2087.8, 0.245), (2088.8, 0.224), (2089.9, 0.173),
              (2090.9, 0.187), (2092.2, 0.201), (2093.5, 0.187), (2094.3, 0.170)]
C_RCP_M = [(2051.0, 0.203), (2052.1, 0.207), (2053.1, 0.217), (2054.3, 0.228), (2055.7, 0.228),
           (2057.0, 0.222), (2058.1, 0.217), (2059.1, 0.224), (2060.4, 0.228), (2061.4, 0.228),
           (2062.4, 0.216), (2063.5, 0.191), (2064.5, 0.174), (2065.3, 0.153), (2066.0, 0.170),
           (2067.1, 0.232), (2068.1, 0.289), (2069.2, 0.295), (2070.2, 0.289), (2071.2, 0.282),
           (2072.3, 0.282), (2073.3, 0.299), (2074.3, 0.316), (2075.4, 0.324), (2076.4, 0.274),
           (2077.4, 0.224), (2078.5, 0.245), (2079.5, 0.278), (2080.5, 0.278), (2081.6, 0.282),
           (2082.6, 0.328), (2083.6, 0.384), (2084.7, 0.357), (2085.7, 0.307), (2086.7, 0.295),
           (2087.8, 0.262)]

# Panel (d)  >= 60 m/s
D_BT = [0.0, 0.0, 0.037, 0.0, 0.074, 0.0, 0.0, 0.26, 0.0, 0.0, 0.111, 0.0, 0.037, 0.26, 0.0, 0.0,
        0.111, 0.0, 0.148, 0.0, 0.037, 0.0, 0.0, 0.074, 0.0, 0.0, 0.037, 0.0, 0.0, 0.26, 0.0, 0.037]
D_HIST = [0.0, 0.0, 0.037, 0.0, 0.0, 0.074, 0.0, 0.0, 0.037, 0.0, 0.0, 0.0, 0.074, 0.0, 0.26, 0.0,
          0.0, 0.037, 0.0, 0.0, 0.0, 0.148, 0.0, 0.0, 0.037, 0.0, 0.0, 0.0, 0.0, 0.037, 0.0, 0.0, 0.0]
D_ARPSR = [0.0, 0.0, 0.0, 0.037, 0.0, 0.074, 0.0, 0.0, 0.0, 0.037, 0.0, 0.0, 0.0, 0.0, 0.111, 0.0,
           0.0, 0.26, 0.0, 0.0, 0.037, 0.0, 0.0, 0.0, 0.0, 0.037, 0.0, 0.0, 0.0, 0.26, 0.0, 0.0,
           0.0, 0.037, 0.0, 0.0, 0.0, 0.0, 0.0, 0.0, 0.0, 0.0, 0.0, 0.0, 0.0, 0.0, 0.0, 0.0]
D_SSP126 = [0.0, 0.0, 0.0, 0.0, 0.0, 0.0, 0.037, 0.222, 0.0, 0.26, 0.0, 0.037, 0.0, 0.0, 0.0, 0.0,
            0.037, 0.0, 0.0, 0.0, 0.0, 0.185, 0.0, 0.0, 0.037, 0.0, 0.0, 0.074, 0.0, 0.0, 0.0, 0.185,
            0.0, 0.24, 0.0, 0.0, 0.0, 0.111, 0.0, 0.148, 0.0, 0.0, 0.148, 0.0, 0.0, 0.0, 0.037, 0.0,
            0.0, 0.0, 0.0, 0.0, 0.037, 0.0, 0.0, 0.0, 0.0, 0.074, 0.0, 0.0, 0.0, 0.0, 0.26, 0.0,
            0.0, 0.26, 0.0, 0.148, 0.0, 0.0, 0.0, 0.0, 0.0, 0.111, 0.26, 0.0, 0.0, 0.0, 0.074, 0.0,
            0.0, 0.0, 0.0, 0.037, 0.0, 0.0]
D_SSP245 = [0.0, 0.0, 0.037, 0.0, 0.222, 0.0, 0.26, 0.0, 0.074, 0.26, 0.0, 0.0, 0.0, 0.26, 0.0, 0.0,
            0.26, 0.0, 0.26, 0.0, 0.0, 0.111, 0.0, 0.0, 0.0, 0.0, 0.148, 0.0, 0.0, 0.0, 0.26, 0.0,
            0.26, 0.0, 0.0, 0.0, 0.074, 0.0, 0.0, 0.0, 0.0, 0.0, 0.111, 0.0, 0.0, 0.0, 0.037, 0.0,
            0.0, 0.0, 0.0, 0.0, 0.0, 0.0, 0.037, 0.0, 0.0, 0.0, 0.0, 0.0, 0.0, 0.074, 0.0, 0.0,
            0.0, 0.222, 0.0, 0.0, 0.0, 0.0, 0.148, 0.0, 0.26, 0.0, 0.0, 0.0, 0.0, 0.0, 0.0, 0.0,
            0.26, 0.0, 0.0, 0.26, 0.0, 0.0]
D_SSP585 = [0.0, 0.0, 0.0, 0.0, 0.0, 0.0, 0.0, 0.0, 0.0, 0.26, 0.26, 0.0, 0.0, 0.0, 0.037, 0.0,
            0.0, 0.0, 0.0, 0.0, 0.0, 0.0, 0.037, 0.0, 0.0, 0.0, 0.0, 0.0, 0.0, 0.222, 0.0, 0.0,
            0.0, 0.26, 0.26, 0.0, 0.26, 0.0, 0.0, 0.0, 0.0, 0.0, 0.0, 0.0, 0.222, 0.0, 0.185, 0.0,
            0.0, 0.0, 0.0, 0.0, 0.0, 0.26, 0.0, 0.26, 0.26, 0.0, 0.26, 0.0, 0.0, 0.0, 0.0, 0.0,
            0.0, 0.0, 0.0, 0.111, 0.0, 0.148, 0.0, 0.0, 0.26, 0.0, 0.0, 0.0, 0.26, 0.26, 0.0, 0.0,
            0.26, 0.0, 0.037, 0.0, 0.0, 0.0]
D_RCP = [0.0, 0.0, 0.0, 0.0, 0.037, 0.0, 0.0, 0.0, 0.0, 0.0, 0.0, 0.0, 0.0, 0.0, 0.0, 0.0,
         0.0, 0.0, 0.0, 0.0, 0.0, 0.0, 0.0, 0.0, 0.111, 0.0, 0.0, 0.0, 0.0, 0.0, 0.0, 0.0,
         0.0, 0.148, 0.0, 0.0, 0.0, 0.0, 0.111, 0.0, 0.0, 0.0, 0.0, 0.0, 0.0, 0.0, 0.0, 0.0]

D_BT_M = [(1990.0, 0.029), (1992.6, 0.029), (1993.6, 0.043), (1994.9, 0.056), (1995.7, 0.060),
          (1997.0, 0.067), (1998.0, 0.060), (1998.9, 0.053), (2000.3, 0.054), (2001.6, 0.054),
          (2002.9, 0.054), (2003.9, 0.040), (2004.9, 0.027), (2006.3, 0.021), (2007.7, 0.014),
          (2008.7, 0.014), (2009.8, 0.029), (2010.8, 0.051), (2011.8, 0.052), (2012.8, 0.056)]
D_HIST_M = [(1984.9, 0.011), (1986.1, 0.015), (1988.0, 0.015), (1990.0, 0.015), (1992.1, 0.015),
            (1993.9, 0.015), (1995.2, 0.011), (1996.7, 0.010), (1998.3, 0.008), (2000.3, 0.008),
            (2002.4, 0.007), (2003.9, 0.005), (2005.4, 0.002), (2007.0, 0.000)]
D_ARPSTR_M = [(1970.5, 0.011), (1972.4, 0.011), (1973.9, 0.009), (1975.6, 0.015), (1976.9, 0.030),
              (1977.9, 0.042), (1979.8, 0.042), (1981.8, 0.042), (1983.9, 0.042), (1985.1, 0.032),
              (1986.4, 0.017), (1987.8, 0.005), (1988.5, 0.0035), (1989.2, 0.010), (1990.5, 0.036),
              (1991.9, 0.038), (1993.1, 0.041), (1995.2, 0.041), (1997.2, 0.041), (1998.5, 0.036),
              (1999.3, 0.025), (2000.3, 0.011), (2001.3, 0.007), (2002.4, 0.005), (2003.9, 0.005),
              (2005.4, 0.005), (2007.0, 0.004), (2007.7, 0.002)]
D_SSP126_M = [(2013.2, 0.0), (2015.7, 0.0), (2016.8, 0.011), (2018.0, 0.032), (2019.3, 0.044),
              (2021.4, 0.044), (2023.4, 0.044), (2026.0, 0.044), (2027.0, 0.032), (2028.3, 0.013),
              (2029.6, 0.010), (2030.6, 0.020), (2031.7, 0.022), (2032.7, 0.027), (2034.0, 0.030),
              (2035.5, 0.034), (2036.8, 0.037), (2038.1, 0.037), (2039.2, 0.027), (2040.2, 0.027),
              (2041.4, 0.037), (2042.9, 0.047), (2044.5, 0.052), (2045.5, 0.049), (2046.8, 0.044),
              (2047.8, 0.055), (2049.1, 0.060), (2050.2, 0.058), (2050.9, 0.050), (2052.2, 0.047),
              (2053.5, 0.039), (2054.8, 0.031), (2056.0, 0.030), (2057.0, 0.029), (2058.1, 0.022),
              (2059.4, 0.015), (2060.4, 0.022), (2061.8, 0.033), (2062.8, 0.025), (2063.8, 0.026),
              (2064.9, 0.026), (2066.1, 0.030), (2067.1, 0.049), (2068.1, 0.064), (2069.4, 0.070),
              (2070.4, 0.068), (2071.4, 0.059), (2072.8, 0.059), (2074.1, 0.059), (2075.3, 0.059),
              (2076.4, 0.058), (2077.4, 0.073), (2078.4, 0.075), (2079.4, 0.063), (2080.5, 0.058),
              (2081.5, 0.045), (2082.5, 0.044), (2083.8, 0.044), (2084.8, 0.044), (2085.8, 0.047),
              (2086.8, 0.032), (2087.9, 0.015), (2089.2, 0.012), (2090.8, 0.011), (2092.3, 0.011),
              (2094.0, 0.011)]
D_SSP245_M = [(2014.2, 0.0045), (2015.7, 0.026), (2017.3, 0.058), (2019.0, 0.109), (2020.3, 0.112),
              (2021.7, 0.124), (2022.9, 0.122), (2024.2, 0.123), (2025.2, 0.130), (2026.0, 0.146),
              (2027.0, 0.142), (2028.1, 0.145), (2029.1, 0.163), (2030.1, 0.167), (2031.1, 0.166),
              (2031.9, 0.157), (2033.0, 0.157), (2034.0, 0.163), (2035.0, 0.153), (2036.1, 0.123),
              (2037.1, 0.113), (2038.1, 0.070), (2039.2, 0.040), (2040.4, 0.042), (2041.6, 0.038),
              (2043.0, 0.040), (2044.3, 0.030), (2045.5, 0.029), (2046.8, 0.024), (2047.8, 0.048),
              (2048.8, 0.100), (2049.6, 0.093), (2050.7, 0.092), (2051.9, 0.098), (2052.9, 0.103),
              (2054.0, 0.108), (2055.3, 0.110), (2056.3, 0.115), (2057.0, 0.120), (2058.4, 0.031),
              (2059.4, 0.031), (2060.4, 0.025), (2061.8, 0.020), (2063.0, 0.015), (2064.2, 0.009),
              (2065.6, 0.0045), (2066.9, 0.0), (2069.2, 0.0), (2071.2, 0.0), (2073.3, 0.0025),
              (2074.8, 0.026), (2076.4, 0.026), (2077.9, 0.026), (2078.9, 0.030), (2080.0, 0.055),
              (2081.3, 0.056), (2082.5, 0.053), (2083.8, 0.035), (2084.8, 0.028), (2086.1, 0.030),
              (2087.7, 0.030), (2088.9, 0.065), (2089.9, 0.050), (2090.9, 0.051), (2092.0, 0.067),
              (2093.0, 0.067), (2094.0, 0.067)]
D_SSP585_M = [(2007.0, 0.0015), (2008.5, 0.0), (2010.6, 0.0), (2012.6, 0.0035), (2014.7, 0.004),
              (2016.8, 0.004), (2018.8, 0.004), (2019.8, 0.030), (2020.9, 0.048), (2022.1, 0.044),
              (2023.4, 0.045), (2024.8, 0.047), (2027.0, 0.048), (2029.1, 0.048), (2030.1, 0.017),
              (2031.1, 0.006), (2032.7, 0.007), (2034.0, 0.005), (2035.3, 0.0035), (2036.8, 0.0035),
              (2037.8, 0.011), (2038.8, 0.026), (2039.9, 0.026), (2040.9, 0.037), (2041.9, 0.062),
              (2043.3, 0.063), (2044.3, 0.075), (2045.3, 0.089), (2046.6, 0.093), (2047.6, 0.081),
              (2048.6, 0.070), (2049.6, 0.079), (2050.7, 0.072), (2051.7, 0.050), (2052.7, 0.048),
              (2054.0, 0.047), (2055.3, 0.043), (2056.8, 0.040), (2058.4, 0.040), (2059.4, 0.040),
              (2060.4, 0.022), (2061.5, 0.022), (2062.5, 0.022), (2063.5, 0.042), (2064.9, 0.059),
              (2065.9, 0.063), (2066.9, 0.078), (2068.1, 0.078), (2069.4, 0.078), (2071.0, 0.081),
              (2072.8, 0.081), (2073.8, 0.058), (2074.8, 0.032), (2075.8, 0.022), (2076.9, 0.018),
              (2077.6, 0.030), (2078.6, 0.030), (2079.7, 0.030), (2080.7, 0.032), (2081.7, 0.035),
              (2082.7, 0.035), (2083.8, 0.030), (2084.8, 0.025), (2085.8, 0.022), (2086.8, 0.026),
              (2087.9, 0.036), (2088.9, 0.086), (2089.9, 0.091), (2091.3, 0.094), (2092.0, 0.096),
              (2093.0, 0.092), (2094.0, 0.088)]
D_RCP_M = [(2051.7, 0.0), (2053.8, 0.0), (2055.8, 0.015), (2057.9, 0.015), (2059.9, 0.015),
           (2062.0, 0.015), (2064.0, 0.014), (2065.6, 0.011), (2068.1, 0.011), (2070.7, 0.011),
           (2072.8, 0.011), (2074.5, 0.021), (2076.2, 0.020), (2077.6, 0.027), (2078.9, 0.030),
           (2080.5, 0.031), (2082.0, 0.036), (2083.0, 0.041), (2084.0, 0.032), (2085.1, 0.024),
           (2086.1, 0.022), (2087.1, 0.022)]

# Axis settings per panel
Y_LIMITS = [7.71, 2.29, 0.83, 0.25]
Y_TICKS = [[2, 4, 6], [0.5, 1.0, 1.5, 2.0], [0.2, 0.4, 0.6, 0.8], [0.05, 0.10, 0.15, 0.20]]
Y_TICKLABELS = [["2", "4", "6"], ["0.5", "1.0", "1.5", "2.0"],
                ["0.2", "0.4", "0.6", "0.8"], ["0.05", "0.10", "0.15", "0.20"]]
X_TICKS = [2000, 2050, 2100]

# ── Style ─────────────────────────────────────────────────────────────────────
C_BT_COL = "#000000"
C_HIST_DASH = "#BDBDBD"
C_HIST_MEAN = "#A9A9A9"
C_ARP = "#AFEEEE"
C_BLUE = "#0000FF"
C_GREEN = "#00FF00"
C_RED = "#FF0000"
C_TEAL = "#668B8B"
C_TEAL_DASH = "#9BB3B3"

DASH = (0, (3.5, 2.2))
DASH_LW = 0.75
MEAN_LW = 2.0

W, H = 1260, 976
fig = plt.figure(figsize=(W / 100, H / 100), dpi=100)


def px_axes(left, right, top, bottom):
    return fig.add_axes([left / W, 1 - bottom / H, (right - left) / W, (bottom - top) / H])


axes = [px_axes(22.4, 625, 52, 383), px_axes(672.5, 1266, 52, 383),
        px_axes(27.6, 624.5, 464, 796), px_axes(677, 1265, 464, 796)]

panels = [
    (A_BT, A_HIST, A_ARPSR, A_SSP126, A_SSP245, A_SSP585, A_RCP,
     A_BT_M, A_HIST_M, A_ARPSTR_M, A_SSP126_M, A_SSP245_M, A_SSP585_M, A_RCP_M),
    (B_BT, B_HIST, B_ARPSR, B_SSP126, B_SSP245, B_SSP585, B_RCP,
     B_BT_M, B_HIST_M, B_ARPSTR_M, B_SSP126_M, B_SSP245_M, B_SSP585_M, B_RCP_M),
    (C_BT, C_HIST, C_ARPSR, C_SSP126, C_SSP245, C_SSP585, C_RCP,
     C_BT_M, C_HIST_M, C_ARPSTR_M, C_SSP126_M, C_SSP245_M, C_SSP585_M, C_RCP_M),
    (D_BT, D_HIST, D_ARPSR, D_SSP126, D_SSP245, D_SSP585, D_RCP,
     D_BT_M, D_HIST_M, D_ARPSTR_M, D_SSP126_M, D_SSP245_M, D_SSP585_M, D_RCP_M),
]


def annual(ax, start, vals, color, alpha):
    yrs = np.arange(start, start + len(vals))
    ax.plot(yrs, vals, color=color, alpha=alpha, lw=DASH_LW, linestyle=DASH, zorder=2)


def mean(ax, pairs, color):
    arr = np.array(pairs)
    ax.plot(arr[:, 0], arr[:, 1], color=color, lw=MEAN_LW, solid_joinstyle="round",
            solid_capstyle="butt", zorder=4)


for i, (ax, p) in enumerate(zip(axes, panels)):
    bt, hist, arpsr, s126, s245, s585, rcp = p[:7]
    bt_m, hist_m, arp_m, s126_m, s245_m, s585_m, rcp_m = p[7:]

    annual(ax, ARPSR_START, arpsr, C_ARP, 0.75)
    annual(ax, HIST_START, hist, C_HIST_DASH, 0.7)
    annual(ax, BT_START, bt, C_BT_COL, 0.75)
    annual(ax, FUT_START, s126, C_BLUE, 0.45)
    annual(ax, FUT_START, s245, C_GREEN, 0.5)
    annual(ax, FUT_START, s585, C_RED, 0.42)
    annual(ax, RCP_START, rcp, C_TEAL_DASH, 0.7)

    mean(ax, arp_m, C_ARP)
    mean(ax, hist_m, C_HIST_MEAN)
    mean(ax, bt_m, C_BT_COL)
    mean(ax, s126_m, C_BLUE)
    mean(ax, s245_m, C_GREEN)
    mean(ax, s585_m, C_RED)
    mean(ax, rcp_m, C_TEAL)

    ax.set_xlim(1956.5, 2108)
    ax.set_ylim(0, Y_LIMITS[i])
    ax.set_xticks(X_TICKS)
    ax.set_xticklabels([str(t) for t in X_TICKS])
    ax.set_yticks(Y_TICKS[i])
    ax.set_yticklabels(Y_TICKLABELS[i])
    ax.grid(True, color="#ECECEC", lw=0.8, zorder=0)
    ax.set_axisbelow(True)
    ax.tick_params(labelsize=5.5, length=2.5, width=0.7, color="#555555",
                   labelcolor="#444444", pad=2)
    for lab in ax.get_xticklabels() + ax.get_yticklabels():
        lab.set_fontfamily("Liberation Sans")
    ax.spines["left"].set_color("#555555")
    ax.spines["bottom"].set_color("#555555")
    ax.spines["top"].set_color("#8A8A8A")
    ax.spines["right"].set_color("#C8C8C8")
    for s in ax.spines.values():
        s.set_linewidth(0.9)

# ── Panel titles (mixed weight, LaTeX look) ───────────────────────────────────
SERIF = "Liberation Serif"
SANS = "Liberation Sans"
TSIZE = 19.5


def rich_title(parts, x_px, y_px):
    boxes = [TextArea(t, textprops=dict(fontfamily=f, fontsize=TSIZE,
                                        fontweight=w, color=c))
             for t, f, w, c in parts]
    pack = HPacker(children=boxes, pad=0, sep=0, align="baseline")
    ab = AnnotationBbox(pack, (x_px / W, 1 - y_px / H), xycoords="figure fraction",
                        frameon=False, box_alignment=(0.5, 0.5), pad=0)
    fig.add_artist(ab)


G = "#808080"
K = "#000000"
rich_title([("(a)  ", SANS, "normal", K), ("Tempêtes et cyclones ", SERIF, "bold", G),
            ("(≥ 17 ", SERIF, "normal", G), ("m/s", SERIF, "bold", G),
            (")", SERIF, "normal", G)], 319, 26)
rich_title([("(b)  ", SANS, "normal", K), ("Cyclones ", SERIF, "bold", K),
            ("(≥ 34 ", SERIF, "normal", K), ("m/s", SERIF, "bold", K),
            (")", SERIF, "normal", K)], 963, 26)
rich_title([("(c)  ", SANS, "normal", K), ("Cyclones intenses ", SERIF, "bold", K),
            ("(≥ 46 ", SERIF, "normal", K), ("m/s", SERIF, "bold", K),
            (")", SERIF, "normal", K)], 318, 439)
rich_title([("(d)  ", SANS, "normal", K), ("Cyclones très intenses ", SERIF, "bold", K),
            ("(≥ 60 ", SERIF, "normal", K), ("m/s", SERIF, "bold", K),
            (")", SERIF, "normal", K)], 962, 439)
rich_title([("(e) ", SANS, "normal", K), ("Légende", SERIF, "bold", K)], 643, 853)

# ── Legend (manual, three columns: label left, sample right) ──────────────────
LEG_LABELS = [
    ["BT-CMRS", "ALA_CNRM_HIST", "ARPsrHIST", "ALA_CNRM_SSP126", "ALA_ESM2_SSP245"],
    ["ALA_CNRM_SSP585", "ARPsrRCP85", "BT-CMRS (10yrs run. mean)",
     "ALA_CNRM_HIST (10yrs run. mean)", "ARPstr_HIST (10yrs run. mean)"],
    ["ALA_CNRM_SSP126 (10yrs run. mean)", "ALA_CNRM_SSP245 (10yrs run. mean)",
     "ALA_CNRM_SSP585 (10yrs run. mean)", "ARPstr_RCP85 (10yrs run. mean)"],
]
LEG_STYLES = [
    [("d", C_BT_COL), ("d", C_HIST_DASH), ("d", C_ARP), ("d", C_BLUE), ("d", C_GREEN)],
    [("d", C_RED), ("d", C_TEAL_DASH), ("s", C_BT_COL), ("s", C_HIST_MEAN), ("s", C_ARP)],
    [("s", C_BLUE), ("s", C_GREEN), ("s", C_RED), ("s", C_TEAL)],
]
COL_TEXT_X = [36, 361, 813]
COL_LINE_X = [(236, 300), (687, 752), (1163, 1228)]
ROW_Y0, ROW_DY = 889, 19

for col in range(3):
    for row, (lab, (kind, color)) in enumerate(zip(LEG_LABELS[col], LEG_STYLES[col])):
        y = 1 - (ROW_Y0 + row * ROW_DY) / H
        fig.text(COL_TEXT_X[col] / W, y, lab, ha="left", va="center",
                 fontsize=13, fontfamily="Liberation Sans", color="#222222")
        x0, x1 = COL_LINE_X[col]
        if kind == "d":
            ln = Line2D([x0 / W, x1 / W], [y, y], transform=fig.transFigure,
                        color=color, lw=1.2, linestyle=(0, (3.0, 2.6)))
        else:
            ln = Line2D([x0 / W, x1 / W], [y, y], transform=fig.transFigure,
                        color=color, lw=3.8, solid_capstyle="round")
        fig.add_artist(ln)

fig.savefig("out.png", dpi=100)
